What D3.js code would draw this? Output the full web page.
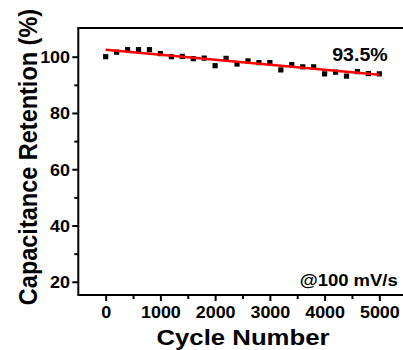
<!DOCTYPE html>
<html>
<head>
<meta charset="utf-8">
<script src="https://cdn.jsdelivr.net/npm/d3@7.9.0/dist/d3.min.js"></script>
<style>
  body { margin: 0; background: #fff; }
  svg { display: block; font-family: "Liberation Sans", Arial, sans-serif; font-weight: bold; }
</style>
</head>
<body>
<div id="chart"></div>
<script>
// cycle number vs capacitance retention
const cycles = [0, 200, 400, 600, 800, 1000, 1200, 1400, 1600, 1800, 2000, 2200, 2400,
  2600, 2800, 3000, 3200, 3400, 3600, 3800, 4000, 4200, 4400, 4600, 4800, 5000];
const retention = [100.0, 101.6, 102.5, 102.5, 102.5, 101.1, 100.0, 100.1, 99.3, 99.5, 96.8,
  99.4, 97.4, 98.5, 97.9, 97.9, 95.3, 97.2, 96.4, 96.4, 93.9, 94.5, 93.1, 94.7, 94.0, 93.9];
// linear fit end points (red line)
const fitCycles = [0, 5000];
const fitValues = [102.5, 93.6];

const xTicks = [0, 1000, 2000, 3000, 4000, 5000];
const xMinor = [500, 1500, 2500, 3500, 4500];
const yTicks = [20, 40, 60, 80, 100];
const yMinor = [30, 50, 70, 90];

const width = 403;
const height = 350;
const sx = 1.12; // the source figure is a bit stretched sideways

const svg = d3.select('#chart')
  .append('svg')
  .attr('width', width)
  .attr('height', height);

const xScale = d3.scaleLinear().domain([-500, 5500]).range([78.3, 406.7]);
const yScale = d3.scaleLinear().domain([15.3, 110.2]).range([295, 28]);

// frame
svg.append('rect')
  .attr('x', xScale(-500))
  .attr('y', yScale(110.2))
  .attr('width', xScale(5500) - xScale(-500))
  .attr('height', yScale(15.3) - yScale(110.2))
  .attr('fill', 'none')
  .attr('stroke', '#000')
  .attr('stroke-width', 2);

// minor ticks
svg.append('g')
  .attr('transform', `translate(0, ${yScale(15.3)})`)
  .call(d3.axisBottom(xScale).tickValues(xMinor).tickSize(4).tickFormat(''))
  .call(g => g.select('.domain').remove())
  .call(g => g.selectAll('line').attr('stroke-width', 2));
svg.append('g')
  .attr('transform', `translate(${xScale(-500)}, 0)`)
  .call(d3.axisLeft(yScale).tickValues(yMinor).tickSize(4).tickFormat(''))
  .call(g => g.select('.domain').remove())
  .call(g => g.selectAll('line').attr('stroke-width', 2));

// X axis
svg.append('g')
  .attr('transform', `translate(0, ${yScale(15.3)})`)
  .call(d3.axisBottom(xScale).tickValues(xTicks).tickSize(6).tickFormat(d3.format('d')))
  .call(g => g.select('.domain').remove())
  .call(g => g.selectAll('line').attr('stroke-width', 2))
  .call(g => g.selectAll('text')
    .attr('y', 23).attr('dy', 0)
    .attr('transform', `scale(${sx},1)`)
    .attr('fill', '#000')
    .style('font-size', '16px').style('font-family', null));

// Y axis
svg.append('g')
  .attr('transform', `translate(${xScale(-500)}, 0)`)
  .call(d3.axisLeft(yScale).tickValues(yTicks).tickSize(6))
  .call(g => g.select('.domain').remove())
  .call(g => g.selectAll('line').attr('stroke-width', 2))
  .call(g => g.selectAll('text')
    .attr('x', -7.4).attr('dy', '0.36em')
    .attr('transform', `scale(${sx},1)`)
    .attr('fill', '#000')
    .style('font-size', '16px').style('font-family', null));

// points
svg.append('g')
  .selectAll('rect')
  .data(cycles)
  .join('rect')
  .attr('x', (d) => xScale(d) - 2.6)
  .attr('y', (d, i) => yScale(retention[i]) - 2.6)
  .attr('width', 5.2)
  .attr('height', 5.2)
  .attr('fill', '#000');

// fit line
const line = d3.line()
  .x((d) => xScale(d))
  .y((d, i) => yScale(fitValues[i]));
svg.append('path')
  .datum(fitCycles)
  .attr('d', line)
  .attr('fill', 'none')
  .attr('stroke', '#ff0000')
  .attr('stroke-width', 2.5);

// annotations
function stretchedText(x, y, txt, size, anchor, rot) {
  svg.append('g')
    .attr('transform', `translate(${x},${y}) scale(${sx},1)` + (rot ? ` rotate(${rot})` : ''))
    .append('text')
    .attr('text-anchor', anchor)
    .style('font-size', size + 'px')
    .attr('fill', '#000')
    .text(txt);
}

stretchedText(387.7, 60.7, '93.5%', 17.5, 'end');
stretchedText(397.7, 285.7, '@100 mV/s', 16.5, 'end');
stretchedText(243, 345, 'Cycle Number', 23, 'middle');
stretchedText(37, 157, 'Capacitance Retention (%)', 23.5, 'middle', -90);
</script>
</body>
</html>
